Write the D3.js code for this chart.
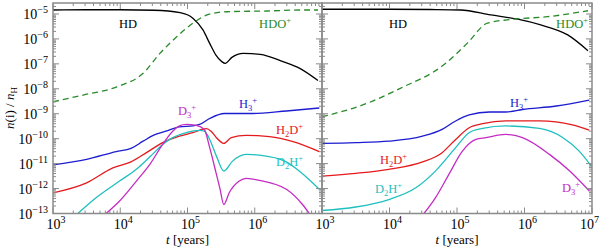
<!DOCTYPE html>
<html>
<head>
<meta charset="utf-8">
<script src="https://cdn.jsdelivr.net/npm/d3@7/dist/d3.min.js"></script>
<style>
  html, body { margin: 0; padding: 0; background: #fff; }
  svg text { font-family: "Liberation Serif", "DejaVu Serif", serif; }
</style>
</head>
<body>
<div id="chart"></div>
<script>
// ── data: [log10 t (years), log10 n(i)/nH] ─────────────────────────────────
const xTickExp = [3, 4, 5, 6, 7];
const yTickExp = [-13, -12, -11, -10, -9, -8, -7, -6, -5];

// left panel
const leftHD = [[3,-4.84],[3.5,-4.83],[4.0,-4.83],[4.5,-4.85],[4.89,-4.95],[5.08,-5.17],[5.23,-5.64],
  [5.33,-6.18],[5.42,-6.64],[5.51,-6.91],[5.56,-6.98],[5.66,-6.74],[5.83,-6.58],[6.08,-6.62],
  [6.42,-6.91],[6.67,-7.18],[6.94,-7.67]];
const leftHDO = [[3,-8.52],[3.45,-8.25],[3.95,-7.92],[4.34,-7.38],[4.59,-6.58],[4.84,-5.91],
  [5.08,-5.37],[5.29,-5.04],[5.58,-4.91],[6.18,-4.88],[6.67,-4.84],[6.94,-4.84]];
const leftH3 = [[3,-11.05],[3.5,-10.83],[3.94,-10.52],[4.16,-10.39],[4.34,-10.10],[4.49,-9.87],
  [4.68,-9.70],[4.88,-9.53],[5.08,-9.49],[5.18,-9.43],[5.33,-9.19],[5.55,-8.99],[5.97,-8.99],
  [6.47,-8.89],[6.96,-8.77]];
const leftH2D = [[3,-12.17],[3.5,-11.77],[3.89,-11.17],[4.16,-10.93],[4.39,-10.56],[4.63,-10.16],
  [4.88,-9.90],[5.08,-9.76],[5.28,-9.60],[5.35,-9.70],[5.43,-9.96],[5.54,-10.19],[5.65,-9.96],
  [5.87,-9.87],[6.22,-9.92],[6.57,-10.12],[6.96,-10.52]];
const leftD2H = [[3.37,-13.0],[3.64,-12.37],[3.99,-11.70],[4.24,-11.23],[4.49,-10.60],[4.63,-10.23],
  [4.78,-9.96],[4.98,-9.76],[5.18,-9.67],[5.25,-9.70],[5.33,-10.03],[5.43,-10.70],[5.54,-11.30],
  [5.67,-10.90],[5.87,-10.63],[6.07,-10.66],[6.47,-10.93],[6.67,-11.32],[6.96,-12.03]];
const leftD3 = [[3.79,-13.0],[3.99,-12.50],[4.24,-11.70],[4.44,-11.03],[4.63,-10.23],[4.78,-9.70],
  [4.88,-9.49],[4.98,-9.43],[5.13,-9.47],[5.25,-9.63],[5.33,-10.36],[5.43,-11.43],[5.48,-11.97],
  [5.54,-12.64],[5.62,-12.17],[5.77,-11.70],[5.87,-11.59],[6.07,-11.67],[6.47,-12.03],
  [6.71,-12.64],[6.81,-13.0]];

// right panel
const rightHD = [[3,-4.81],[4.0,-4.81],[4.6,-4.82],[5.05,-4.84],[5.5,-5.04],[5.9,-5.21],
  [6.24,-5.44],[6.64,-5.84],[6.94,-6.47]];
const rightHDO = [[3,-9.12],[3.67,-8.58],[4.16,-7.98],[4.80,-7.05],[5.15,-6.18],[5.45,-5.37],
  [5.84,-5.21],[6.34,-5.11],[6.94,-4.87]];
const rightH3 = [[3,-10.19],[3.5,-10.16],[3.99,-10.10],[4.49,-9.90],[4.78,-9.63],[4.98,-9.29],
  [5.18,-9.05],[5.48,-8.93],[5.72,-8.93],[5.97,-8.83],[6.47,-8.69],[6.96,-8.45]];
const rightH2D = [[3,-11.50],[3.5,-11.39],[3.99,-11.23],[4.49,-10.93],[4.78,-10.56],[4.98,-10.03],
  [5.18,-9.56],[5.38,-9.40],[5.72,-9.29],[6.22,-9.29],[6.71,-9.45],[6.96,-9.66]];
const rightD2H = [[3,-12.88],[3.5,-12.74],[3.99,-12.44],[4.39,-11.97],[4.68,-11.30],[4.98,-10.36],
  [5.18,-9.76],[5.38,-9.59],[5.72,-9.49],[6.22,-9.59],[6.57,-9.96],[6.81,-10.50],[6.99,-11.10]];
const rightD3 = [[4.51,-13.0],[4.68,-12.37],[4.88,-11.43],[5.08,-10.50],[5.28,-10.03],[5.43,-9.96],
  [5.72,-9.83],[5.97,-9.96],[6.37,-10.63],[6.67,-11.30],[6.96,-12.10]];

const colors = { HD: '#000000', HDO: '#2a8a2a', H3: '#1c1cd0', H2D: '#e41a1c', D2H: '#1fbfbf', D3: '#c42cc4' };

const panels = [
  { x0: 53, x1: 322,
    series: [
      { d: leftHD, c: colors.HD }, { d: leftHDO, c: colors.HDO, dash: '6,4' },
      { d: leftH3, c: colors.H3 }, { d: leftH2D, c: colors.H2D },
      { d: leftD2H, c: colors.D2H }, { d: leftD3, c: colors.D3 }],
    labels: [
      { t: 'HD', x: 128, y: 28, c: colors.HD, a: 'middle' },
      { t: 'HDO', sup: '+', x: 291, y: 28, c: colors.HDO, a: 'end' },
      { t: 'D', sub: '3', sup: '+', x: 178, y: 115, c: colors.D3, a: 'start' },
      { t: 'H', sub: '3', sup: '+', x: 239, y: 108, c: colors.H3, a: 'start' },
      { t: 'H', sub: '2', mid: 'D', sup: '+', x: 276, y: 134, c: colors.H2D, a: 'start' },
      { t: 'D', sub: '2', mid: 'H', sup: '+', x: 276, y: 166, c: colors.D2H, a: 'start' }],
    yLabels: true },
  { x0: 322, x1: 592,
    series: [
      { d: rightHD, c: colors.HD }, { d: rightHDO, c: colors.HDO, dash: '6,4' },
      { d: rightH3, c: colors.H3 }, { d: rightH2D, c: colors.H2D },
      { d: rightD2H, c: colors.D2H }, { d: rightD3, c: colors.D3 }],
    labels: [
      { t: 'HD', x: 398, y: 28, c: colors.HD, a: 'middle' },
      { t: 'HDO', sup: '+', x: 588, y: 28, c: colors.HDO, a: 'end' },
      { t: 'H', sub: '3', sup: '+', x: 510, y: 107, c: colors.H3, a: 'start' },
      { t: 'H', sub: '2', mid: 'D', sup: '+', x: 380, y: 164, c: colors.H2D, a: 'start' },
      { t: 'D', sub: '2', mid: 'H', sup: '+', x: 375, y: 193, c: colors.D2H, a: 'start' },
      { t: 'D', sub: '3', sup: '+', x: 562, y: 192, c: colors.D3, a: 'start' }],
    yLabels: false }
];

const W = 600, H = 247, yTop = 3, yBot = 213.5;
const svg = d3.select('#chart').append('svg').attr('width', W).attr('height', H);

const y = d3.scaleLog().domain([1e-13, Math.pow(10, -4.56)]).range([yBot, yTop]);
const axisCol = '#8a8a8a';

// ── tick helpers ──
function minorVals(lo, hi) {
  const out = [];
  for (let e = lo; e < hi; e++) for (let m = 2; m <= 9; m++) out.push(m * Math.pow(10, e));
  return out;
}

function supLabel(g, base, exp, x, yy, anchor) {
  const t = g.append('text').attr('x', x).attr('y', yy).attr('text-anchor', anchor)
    .attr('font-size', 14).attr('fill', '#000');
  t.append('tspan').text(base);
  t.append('tspan').attr('dy', -6).attr('font-size', 10).text(exp);
  return t;
}

panels.forEach((p, pi) => {
  const x = d3.scaleLog().domain([1e3, 1e7]).range([p.x0, p.x1]);
  const g = svg.append('g');
  const clipId = 'clip' + pi;
  svg.append('clipPath').attr('id', clipId).append('rect')
    .attr('x', p.x0).attr('y', yTop).attr('width', p.x1 - p.x0).attr('height', yBot - yTop);

  // curves
  const line = d3.line().x(d => x(Math.pow(10, d[0]))).y(d => y(Math.pow(10, d[1])))
    .curve(d3.curveMonotoneX);
  const cg = g.append('g').attr('clip-path', `url(#${clipId})`);
  p.series.forEach(s => {
    cg.append('path').attr('d', line(s.d)).attr('fill', 'none')
      .attr('stroke', s.c).attr('stroke-width', 1.3)
      .attr('stroke-dasharray', s.dash || null);
  });

  // ticks (inward on all four sides)
  const xMaj = xTickExp.map(e => Math.pow(10, e));
  const yMaj = yTickExp.map(e => Math.pow(10, e));
  const xMin = minorVals(3, 7);
  const yMin = minorVals(-13, -5).concat([2e-5]);
  const tg = g.append('g').attr('stroke', axisCol).attr('stroke-width', 1);
  const tick = (x1, y1, x2, y2) => tg.append('line').attr('x1', x1).attr('y1', y1).attr('x2', x2).attr('y2', y2);
  xMaj.forEach(v => { tick(x(v), yBot, x(v), yBot - 6); tick(x(v), yTop, x(v), yTop + 6); });
  xMin.forEach(v => { tick(x(v), yBot, x(v), yBot - 3); tick(x(v), yTop, x(v), yTop + 3); });
  yMaj.forEach(v => { tick(p.x0, y(v), p.x0 + 6, y(v)); tick(p.x1, y(v), p.x1 - 6, y(v)); });
  yMin.forEach(v => { tick(p.x0, y(v), p.x0 + 3, y(v)); tick(p.x1, y(v), p.x1 - 3, y(v)); });

  // frame
  g.append('rect').attr('x', p.x0).attr('y', yTop).attr('width', p.x1 - p.x0).attr('height', yBot - yTop)
    .attr('fill', 'none').attr('stroke', axisCol).attr('stroke-width', 1.5);

  // x tick labels
  const lg = g.append('g');
  xTickExp.forEach(e => {
    if (pi === 0 && e === 7) return;
    if (e === 7) supLabel(lg, '10', String(e), 599, 229, 'end');
    else supLabel(lg, '10', String(e), x(Math.pow(10, e)) + 3, 229, 'middle');
  });

  // y tick labels
  if (p.yLabels) {
    yTickExp.forEach(e => {
      supLabel(lg, '10', '\u2212' + Math.abs(e), 48, y(Math.pow(10, e)) + 5, 'end');
    });
  }

  // x-axis title
  const xt = lg.append('text').attr('x', (p.x0 + p.x1) / 2).attr('y', 244)
    .attr('text-anchor', 'middle').attr('font-size', 13);
  xt.append('tspan').attr('font-style', 'italic').text('t');
  xt.append('tspan').text(' [years]');

  // species labels
  p.labels.forEach(l => {
    const t = lg.append('text').attr('x', l.x).attr('y', l.y).attr('text-anchor', l.a)
      .attr('font-size', 12.5).attr('fill', l.c);
    t.append('tspan').text(l.t);
    if (l.sub) {
      t.append('tspan').attr('dy', 3).attr('font-size', 8.5).text(l.sub);
      if (l.mid) t.append('tspan').attr('dy', -3).attr('font-size', 12.5).text(l.mid);
      t.append('tspan').attr('dy', l.mid ? -5 : -8).attr('font-size', 8.5).text(l.sup);
    } else if (l.sup) {
      t.append('tspan').attr('dy', -5).attr('font-size', 8.5).text(l.sup);
    }
  });
});

// y-axis title
const yt = svg.append('text').attr('transform', 'translate(14,108) rotate(-90)')
  .attr('text-anchor', 'middle').attr('font-size', 13);
yt.append('tspan').attr('font-style', 'italic').text('n');
yt.append('tspan').text('(i) / ');
yt.append('tspan').attr('font-style', 'italic').text('n');
yt.append('tspan').attr('dy', 3).attr('font-size', 9).text('H');
</script>
</body>
</html>
